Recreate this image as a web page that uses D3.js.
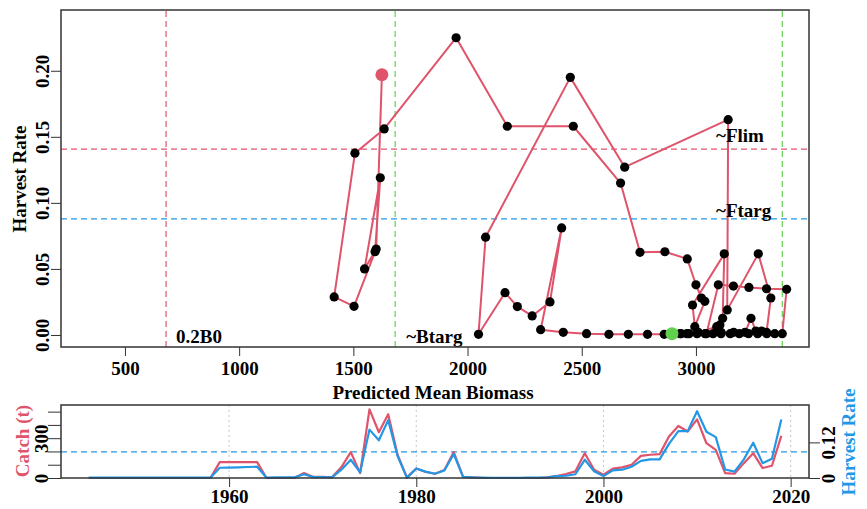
<!DOCTYPE html>
<html>
<head>
<meta charset="utf-8">
<script src="https://cdn.jsdelivr.net/npm/d3@7"></script>
<style>
  body { margin: 0; background: #fff; }
  text { font-family: "Liberation Serif", "DejaVu Serif", serif; font-weight: bold; }
</style>
</head>
<body>
<div id="chart"></div>
<script>
// ---- data ----
const years = d3.range(1945, 2020);

const biomass = [
  2895, 2935, 2970, 3005, 3040, 3075, 3110, 3150, 3190, 3230,   // 1945-54
  3270, 3310, 3345, 3378, 3397, 3309, 3232, 3164, 3098, 3046,   // 1955-64
  3110, 3165, 3215, 3241, 3262, 3288, 3309, 3328, 3273, 3137,   // 1965-74
  3141, 2688, 2450, 2079, 2048, 2164, 2218, 2283, 2361, 2412,   // 1975-84
  2320, 2419, 2521, 2619, 2704, 2788, 2861, 2930, 2960, 3010,   // 1985-94
  3091, 3105, 3117, 3124, 2985, 2995, 3039, 3024, 3000, 2962,   // 1995-04
  2864, 2755, 2670, 2463, 2174, 1950, 1635, 1507, 1416, 1503,   // 2005-14
  1595, 1618, 1549, 1600, 1625                                  // 2015-19
];

const harvestRate = [
  0.001, 0.001, 0.001, 0.001, 0.001, 0.001, 0.001, 0.001, 0.001, 0.001,
  0.001, 0.001, 0.001, 0.001, 0.0346, 0.035, 0.036, 0.037, 0.038, 0.001,
  0.002, 0.002, 0.002, 0.0126, 0.003, 0.003, 0.002, 0.028, 0.0614, 0.019,
  0.163, 0.127, 0.195, 0.074, 0.0005, 0.032, 0.0215, 0.0144, 0.025, 0.081,
  0.004, 0.002, 0.001, 0.0005, 0.0005, 0.0005, 0.0005, 0.001, 0.001, 0.002,
  0.0063, 0.0076, 0.0126, 0.0614, 0.0227, 0.0063, 0.0255, 0.028, 0.038, 0.0576,
  0.063, 0.0626, 0.115, 0.158, 0.158, 0.225, 0.156, 0.1376, 0.0288, 0.0217,
  0.063, 0.119, 0.050, 0.065, 0.197
];

const catchT = [
  0, 0, 0, 0, 0, 0, 0, 0, 0, 0,
  0, 0, 0, 0, 120, 120, 120, 120, 120, 0,
  0, 0, 0, 37, 8, 8, 5, 82, 195, 37,
  517, 345, 480, 175, 5, 72, 45, 32, 60, 195,
  8, 5, 0, 0, 0, 0, 0, 0, 0, 5,
  15, 30, 50, 187, 62, 25, 70, 80, 100, 167,
  175, 180, 312, 392, 350, 442, 262, 212, 37, 32,
  112, 187, 75, 92, 317
];

// reference points
const refB = [680, 1683, 3378];       // 0.2B0, ~Btarg, B0
const refF = [0.1407, 0.0879];        // ~Flim, ~Ftarg
const refLabels = ["0.2B0", "~Btarg", "~Flim", "~Ftarg"];

const xTicks = [500, 1000, 1500, 2000, 2500, 3000];
const yTicks = [0, 0.05, 0.10, 0.15, 0.20];
const yearTicks = [1960, 1980, 2000, 2020];
const catchTicks = [0, 100, 200, 300, 400, 500];
const catchTickLabels = [0, 300];
const hrTicks = [0, 0.12];

const red = "#DF536B", blue = "#2297E6", green = "#61D04F";

const W = 867, H = 509;
const svg = d3.select("#chart").append("svg")
    .attr("width", W)
    .attr("height", H);

const data = years.map((yr, i) => ({year: yr, b: biomass[i], f: harvestRate[i], c: catchT[i]}));

// ---------------- top panel ----------------
const x = d3.scaleLinear().domain([220, 3495]).range([61, 809]);
const y = d3.scaleLinear().domain([-0.0091, 0.246]).range([347, 10]);

const topG = svg.append("g");

// reference lines
topG.append("line")
    .attr("x1", x(refB[0])).attr("x2", x(refB[0]))
    .attr("y1", y.range()[0]).attr("y2", y.range()[1])
    .style("stroke", red).style("stroke-dasharray", "6,4").style("stroke-width", 1.2);
[refB[1], refB[2]].forEach(function(v) {
    topG.append("line")
        .attr("x1", x(v)).attr("x2", x(v))
        .attr("y1", y.range()[0]).attr("y2", y.range()[1])
        .style("stroke", green).style("stroke-dasharray", "6,4").style("stroke-width", 1.2);
});
topG.append("line")
    .attr("x1", 61).attr("x2", 809)
    .attr("y1", y(refF[0])).attr("y2", y(refF[0]))
    .style("stroke", red).style("stroke-dasharray", "6,4").style("stroke-width", 1.2);
topG.append("line")
    .attr("x1", 61).attr("x2", 809)
    .attr("y1", y(refF[1])).attr("y2", y(refF[1]))
    .style("stroke", blue).style("stroke-dasharray", "6,4").style("stroke-width", 1.2);

// trajectory
topG.append("path")
    .datum(data)
    .attr("d", d3.line().x(d => x(d.b)).y(d => y(d.f)))
    .style("fill", "none")
    .style("stroke", red)
    .style("stroke-width", 2)
    .style("stroke-linejoin", "round");

topG.selectAll(".pt")
    .data(data.slice(1, -1))
    .enter().append("circle")
    .attr("class", "pt")
    .attr("cx", d => x(d.b))
    .attr("cy", d => y(d.f))
    .attr("r", 4.6)
    .style("fill", "black");

topG.append("circle")
    .attr("cx", x(data[0].b)).attr("cy", y(data[0].f))
    .attr("r", 6.5).style("fill", green);
topG.append("circle")
    .attr("cx", x(data[data.length - 1].b)).attr("cy", y(data[data.length - 1].f))
    .attr("r", 6.5).style("fill", red);

// labels of reference points
topG.append("text").attr("x", 176).attr("y", 343).attr("font-size", 19).text(refLabels[0]);
topG.append("text").attr("x", x(refB[1]) + 11).attr("y", 343).attr("font-size", 19).text(refLabels[1]);
topG.append("text").attr("x", 716).attr("y", y(refF[0]) - 7).attr("font-size", 19).text(refLabels[2]);
topG.append("text").attr("x", 716).attr("y", y(refF[1]) - 2).attr("font-size", 19).text(refLabels[3]);

// axes
topG.append("g")
    .attr("transform", "translate(0,347)")
    .call(d3.axisBottom(x).tickValues(xTicks).tickSize(9).tickPadding(6).tickFormat(d3.format("d")))
    .call(g => g.select(".domain").remove())
    .call(g => g.selectAll("line").style("stroke", "#333"))
    .call(g => g.selectAll("text").attr("font-size", 19).attr("font-family", null).style("fill", "black"));

const yAx = topG.append("g")
    .attr("transform", "translate(61,0)")
    .call(d3.axisLeft(y).tickValues(yTicks).tickSize(10).tickFormat(d3.format(".2f")))
    .call(g => g.select(".domain").remove())
    .call(g => g.selectAll("line").style("stroke", "#333"));
yAx.selectAll("text")
    .attr("font-size", 19).attr("font-family", null)
    .attr("x", null).attr("dy", null)
    .attr("text-anchor", "middle")
    .attr("transform", "translate(-12,0) rotate(-90)")
    .style("fill", "black");

topG.append("rect")
    .attr("x", 61).attr("y", 10).attr("width", 748).attr("height", 337)
    .style("fill", "none").style("stroke", "#333").style("stroke-width", 1.5);

topG.append("text")
    .attr("x", 433).attr("y", 399)
    .attr("text-anchor", "middle").attr("font-size", 19)
    .text("Predicted Mean Biomass");
topG.append("text")
    .attr("transform", "translate(26,179) rotate(-90)")
    .attr("text-anchor", "middle").attr("font-size", 19)
    .text("Harvest Rate");

// ---------------- bottom panel ----------------
const xt = d3.scaleLinear().domain([1942.04, 2021.96]).range([61, 809]);
const yc = d3.scaleLinear().domain([0, 550]).range([478, 405]);
const yh = d3.scaleLinear().domain([0, 0.246]).range([478, 405]);

const bot = svg.append("g");

bot.selectAll(".grid")
    .data(yearTicks)
    .enter().append("line")
    .attr("x1", d => xt(d)).attr("x2", d => xt(d))
    .attr("y1", 405).attr("y2", 478)
    .style("stroke", "#c8c8c8").style("stroke-dasharray", "2,3").style("stroke-width", 1);

bot.append("line")
    .attr("x1", 61).attr("x2", 809)
    .attr("y1", yh(refF[1])).attr("y2", yh(refF[1]))
    .style("stroke", blue).style("stroke-dasharray", "6,4").style("stroke-width", 1.2);

bot.append("path")
    .datum(data)
    .attr("d", d3.line().x(d => xt(d.year)).y(d => yc(d.c)))
    .style("fill", "none").style("stroke", red).style("stroke-width", 2.2)
    .style("stroke-linejoin", "round");
bot.append("path")
    .datum(data)
    .attr("d", d3.line().x(d => xt(d.year)).y(d => yh(d.f)))
    .style("fill", "none").style("stroke", blue).style("stroke-width", 2.2)
    .style("stroke-linejoin", "round");

bot.append("g")
    .attr("transform", "translate(0,478)")
    .call(d3.axisBottom(xt).tickValues(yearTicks).tickSize(9).tickPadding(3).tickFormat(d3.format("d")))
    .call(g => g.select(".domain").remove())
    .call(g => g.selectAll("line").style("stroke", "#333"))
    .call(g => g.selectAll("text").attr("font-size", 19).attr("font-family", null).style("fill", "black"));

const cAx = bot.append("g")
    .attr("transform", "translate(61,0)")
    .call(d3.axisLeft(yc).tickValues(catchTicks).tickSize(13)
        .tickFormat(d => catchTickLabels.includes(d) ? d : ""))
    .call(g => g.select(".domain").remove())
    .call(g => g.selectAll("line").style("stroke", "#333"));
cAx.selectAll("text")
    .attr("font-size", 19).attr("font-family", null)
    .attr("x", null).attr("dy", null)
    .attr("text-anchor", "middle")
    .attr("transform", "translate(-13,0) rotate(-90)")
    .style("fill", "black");

const hAx = bot.append("g")
    .attr("transform", "translate(809,0)")
    .call(d3.axisRight(yh).tickValues(hrTicks).tickSize(11)
        .tickFormat(d => d === 0 ? "0" : d3.format(".2f")(d)))
    .call(g => g.select(".domain").remove())
    .call(g => g.selectAll("line").style("stroke", "#333"));
hAx.selectAll("text")
    .attr("font-size", 19).attr("font-family", null)
    .attr("x", null).attr("dy", null)
    .attr("text-anchor", "middle")
    .attr("transform", "translate(26,0) rotate(-90)")
    .style("fill", "black");

bot.append("rect")
    .attr("x", 61).attr("y", 405).attr("width", 748).attr("height", 73)
    .style("fill", "none").style("stroke", "#333").style("stroke-width", 1.5);

bot.append("text")
    .attr("transform", "translate(29,441) rotate(-90)")
    .attr("text-anchor", "middle").attr("font-size", 19)
    .style("fill", red)
    .text("Catch (t)");
bot.append("text")
    .attr("transform", "translate(855,442) rotate(-90)")
    .attr("text-anchor", "middle").attr("font-size", 19)
    .style("fill", blue)
    .text("Harvest Rate");
</script>
</body>
</html>
